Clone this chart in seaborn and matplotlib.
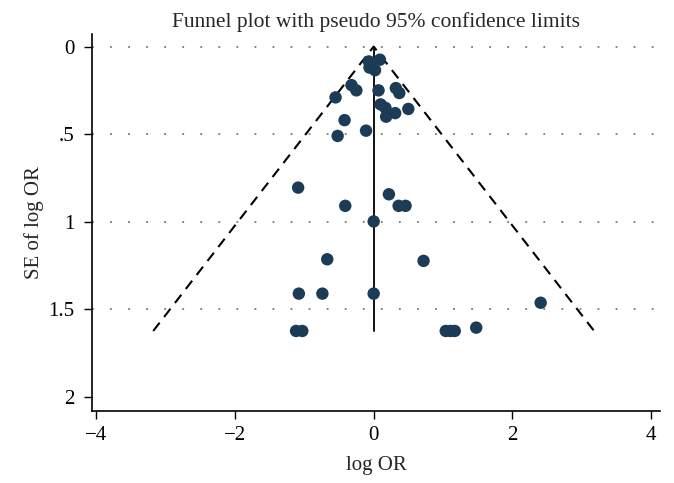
import numpy as np
import pandas as pd
import matplotlib
matplotlib.use("Agg")
import matplotlib.pyplot as plt
import seaborn as sns

# study estimates (log OR) and standard errors
log_or = [0.09, -0.07, -0.05, -0.06, 0.02,
          -0.32, -0.25, -0.55, 0.07, 0.32, 0.37,
          0.10, 0.17, 0.18, 0.31, 0.50,
          -0.42, -0.11, -0.52,
          -1.09, -0.41, 0.00, 0.22, 0.36, 0.46,
          -0.67, 0.72,
          -1.08, -0.74, 0.00, 2.41,
          -1.12, -1.03, 1.04, 1.11, 1.17, 1.48]
se_log_or = [0.075, 0.085, 0.10, 0.12, 0.135,
             0.22, 0.25, 0.29, 0.25, 0.237, 0.265,
             0.33, 0.35, 0.40, 0.38, 0.356,
             0.42, 0.48, 0.51,
             0.805, 0.909, 0.998, 0.843, 0.909, 0.909,
             1.214, 1.223,
             1.41, 1.41, 1.41, 1.462,
             1.623, 1.623, 1.623, 1.623, 1.623, 1.604]

df = pd.DataFrame({"log OR": log_or, "SE of log OR": se_log_or})

sns.set_style("white")
plt.rcParams["font.family"] = ["Liberation Serif", "DejaVu Serif"]

fig = plt.figure(figsize=(6.74, 4.83), dpi=100)
ax = fig.add_axes([0.137, 0.149, 0.842, 0.78])

# pseudo 95% limits
se_max = df["SE of log OR"].max()
ax.plot([-1.96 * se_max, 0, 1.96 * se_max], [se_max, 0, se_max],
        color="black", linestyle=(0, (5, 3.5)), linewidth=1.5, zorder=2)
ax.plot([0, 0], [0, se_max], color="#111111", linewidth=1.4, zorder=2)

sns.scatterplot(data=df, x="log OR", y="SE of log OR", ax=ax,
                color="#1b3b57", s=80, edgecolor="none", zorder=3)

for yv in [0, 0.5, 1, 1.5]:
    ax.axhline(yv, color="#777777", linestyle=(0, (1, 9)), linewidth=1.3, zorder=1)

ax.set_xlim(-4.06, 4.13)
ax.set_ylim(2.08, -0.07)
ax.set_xticks([-4, -2, 0, 2, 4])
ax.set_xticklabels(["\u22124", "\u22122", "0", "2", "4"])
ax.set_yticks([0, 0.5, 1, 1.5, 2])
ax.set_yticklabels(["0", ".5", "1", "1.5", "2"])

for s in ["top", "right"]:
    ax.spines[s].set_visible(False)
for s in ["left", "bottom"]:
    ax.spines[s].set_color("black")
    ax.spines[s].set_linewidth(1.2)
ax.tick_params(axis="both", direction="out", length=6, width=1, colors="black",
               labelsize=15, left=True, bottom=True)
ax.tick_params(axis="y", pad=7)
ax.tick_params(axis="x", pad=5)

ax.set_xlabel("log OR", fontsize=15, labelpad=8)
ax.set_ylabel("SE of log OR", fontsize=15, labelpad=3)
ax.set_title("Funnel plot with pseudo 95% confidence limits", fontsize=15.5, pad=5)

fig.savefig("out.png", dpi=100)
